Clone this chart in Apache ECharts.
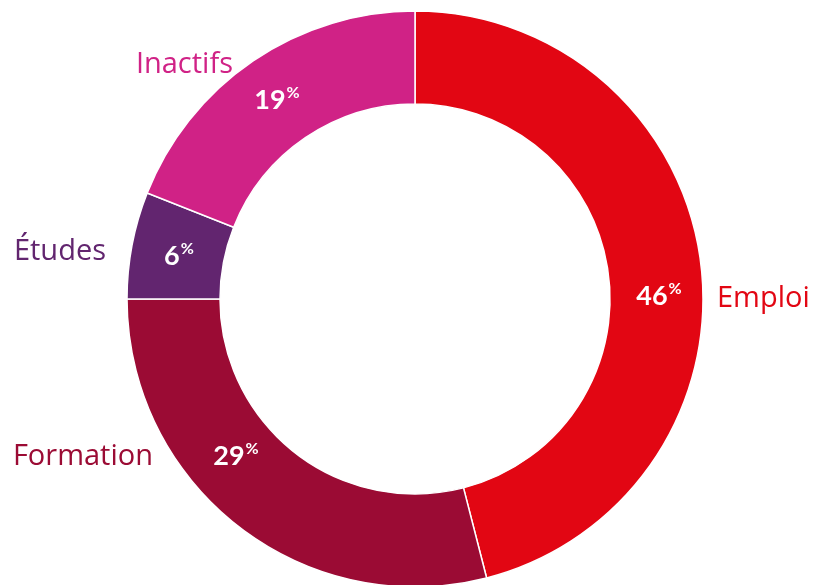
<!DOCTYPE html>
<html>
<head>
<meta charset="utf-8">
<script src="https://cdn.jsdelivr.net/npm/echarts@6/dist/echarts.min.js"></script>
<style>
  html, body { margin: 0; padding: 0; background: #fff; }
  #main { width: 814px; height: 585px; }
</style>
</head>
<body>
<div id="main"></div>
<script>
// data
var categories = ['Emploi', 'Formation', 'Études', 'Inactifs'];
var values = [46, 29, 6, 19];
var colors = ['#E20613', '#9B0B34', '#62256F', '#D02286'];

// label placement (layout only)
var namePos = [
  { x: 717, y: 299, align: 'left' },
  { x: 153, y: 457, align: 'right' },
  { x: 106, y: 252, align: 'right' },
  { x: 233, y: 65, align: 'right' }
];
var pctPos = [
  { x: 659, y: 296 },
  { x: 236, y: 456 },
  { x: 179, y: 256 },
  { x: 277, y: 100 }
];

var pieData = categories.map(function (c, i) {
  return { name: c, value: values[i], itemStyle: { color: colors[i] } };
});

var chartDom = document.getElementById('main');
var myChart = echarts.init(chartDom);

var option = {
  animation: false,
  series: [
    {
      type: 'pie',
      center: [415, 299],
      radius: [195, 288],
      startAngle: 90,
      data: pieData,
      itemStyle: { borderColor: '#fff', borderWidth: 1.5 },
      label: {
        show: true,
        position: 'inside',
        overflow: 'none',
        formatter: function (p) { return '{n|' + p.value + '}{p|%}'; },
        rich: {
          n: { fontFamily: 'Lato', fontWeight: 'bold', fontSize: 27, color: '#fff' },
          p: { fontFamily: 'Lato', fontWeight: 'bold', fontSize: 16, color: '#fff', verticalAlign: 'top', padding: [0, 0, 14, 1] }
        }
      },
      labelLine: { show: false },
      labelLayout: function (params) {
        var p = pctPos[params.dataIndex];
        return { x: p.x, y: p.y, align: 'center', verticalAlign: 'middle' };
      }
    },
    {
      type: 'pie',
      center: [415, 299],
      radius: [195, 288],
      startAngle: 90,
      silent: true,
      data: pieData.map(function (d, i) {
        return {
          name: d.name,
          value: d.value,
          itemStyle: { color: 'transparent' },
          label: { color: colors[i] }
        };
      }),
      label: {
        show: true,
        position: 'outside',
        overflow: 'none',
        width: 300,
        formatter: '{b}',
        fontFamily: 'Open Sans',
        fontSize: 29
      },
      labelLine: { show: false },
      labelLayout: function (params) {
        var p = namePos[params.dataIndex];
        return { x: p.x, y: p.y, align: p.align, verticalAlign: 'middle' };
      }
    }
  ]
};

myChart.setOption(option);
window.addEventListener('resize', function () { myChart.resize(); });
</script>
</body>
</html>
